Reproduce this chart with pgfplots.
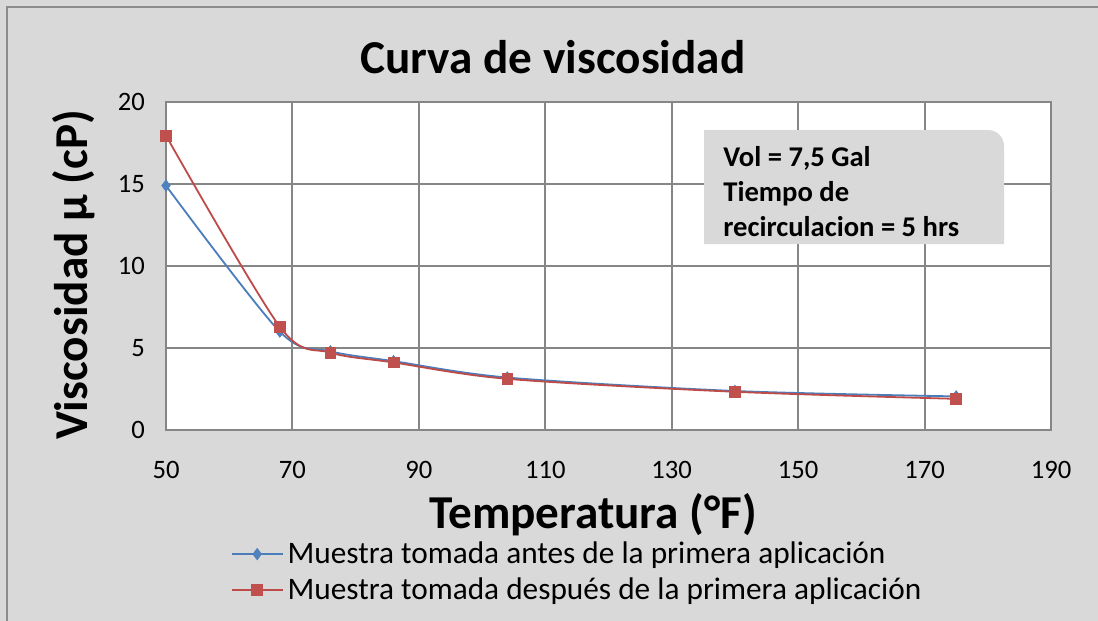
\documentclass[border=0pt]{standalone}
\usepackage{fontspec}
\setmainfont{Carlito}
\usepackage{pgfplots}
\pgfplotsset{compat=1.18}
\definecolor{bg}{HTML}{D9D9D9}
\definecolor{gridc}{HTML}{868686}
\definecolor{bordc}{HTML}{8C8C8C}
\definecolor{s1line}{HTML}{4A7EBB}
\definecolor{s1mark}{HTML}{4F81BD}
\definecolor{s2line}{HTML}{BE4B48}
\definecolor{s2mark}{HTML}{C0504D}
\begin{document}
\begin{tikzpicture}
\useasboundingbox (0,0) rectangle (549pt,-310.5pt);
\fill[bg] (0,0) rectangle (549pt,-310.5pt);
\draw[bordc,line width=1.2pt] (3.6pt,-310.5pt) -- (3.6pt,-3.6pt) -- (549pt,-3.6pt);
\begin{axis}[
  at={(83pt,-215pt)}, anchor=south west,
  scale only axis, width=442.5pt, height=164pt,
  xmin=50, xmax=190, ymin=0, ymax=20,
  xtick={50,70,...,190}, ytick={0,5,10,15,20},
  grid=major, grid style={gridc, line width=1pt},
  axis line style={gridc, line width=1pt},
  major tick style={draw=none},
  axis background/.style={fill=white},
  tick label style={font=\fontsize{13.3}{16}\selectfont},
  /pgf/number format/assume math mode=true,
  xticklabel style={yshift=-12pt},
  yticklabel style={xshift=-7pt},
  legend style={at={(0.066,-0.315)}, anchor=north west, draw=none, fill=none,
    font=\fontsize{15.65}{18}\selectfont, row sep=1.7pt},
  legend cell align=left,
  legend image code/.code={\draw[mark repeat=2,mark phase=2] plot coordinates {(0pt,0pt) (12.75pt,0pt) (25.5pt,0pt)};},
]
\addplot[s1line, line width=0.9pt, smooth, mark=diamond*, mark size=2.8pt,
  mark options={fill=s1mark, draw=s1mark, line width=0.4pt}]
  coordinates {(50,14.9) (68,6.0) (76,4.8) (86,4.2) (104,3.2) (140,2.38) (175,2.05)};
\addlegendentry{Muestra tomada antes de la primera aplicación}
\addplot[s2line, line width=0.9pt, smooth, mark=square*, mark size=2.7pt,
  mark options={fill=s2mark, draw=s2mark, line width=0.4pt}]
  coordinates {(50,17.95) (68,6.3) (76,4.72) (86,4.12) (104,3.12) (140,2.33) (175,1.9)};
\addlegendentry{Muestra tomada después de la primera aplicación}
\end{axis}
\fill[bg] (352pt,-122pt) -- (352pt,-65pt) -- (494pt,-65pt) arc[start angle=90,end angle=0,radius=8pt] -- (502pt,-122pt) -- cycle;
\begin{scope}[every node/.style={anchor=base west, inner sep=0pt, font=\bfseries\fontsize{14.3}{17}\selectfont}]
\node at (361.5pt,-83.3pt) {Vol = 7,5 Gal};
\node at (361.5pt,-100.8pt) {Tiempo de};
\node at (361.5pt,-118.3pt) {recirculacion = 5 hrs};
\end{scope}
\node[font=\bfseries\fontsize{23.6}{28}\selectfont] at (276.5pt,-28.5pt) {Curva de viscosidad};
\node[font=\bfseries\fontsize{23.6}{28}\selectfont] at (296.5pt,-257.5pt) {Temperatura (°F)};
\node[rotate=90, font=\bfseries\fontsize{23.6}{28}\selectfont] at (37pt,-137.5pt) {Viscosidad µ (cP)};
\end{tikzpicture}
\end{document}
